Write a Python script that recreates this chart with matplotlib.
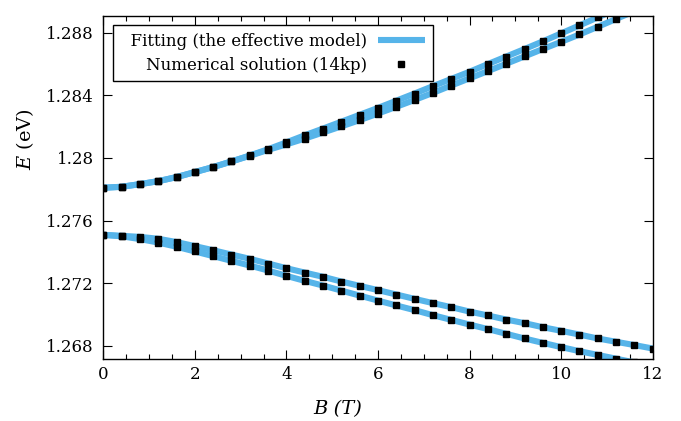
import matplotlib
matplotlib.use('Agg')
import matplotlib.pyplot as plt
from matplotlib.ticker import FixedLocator, MultipleLocator

plt.rcParams['font.family'] = ['DejaVu Serif']
plt.rcParams['mathtext.fontset'] = 'dejavuserif'

# Magnetic field grid (T)
B = [0.0, 0.4, 0.8, 1.2, 1.6, 2.0, 2.4, 2.8, 3.2, 3.6, 4.0, 4.4, 4.8, 5.2, 5.6,
     6.0, 6.4, 6.8, 7.2, 7.6, 8.0, 8.4, 8.8, 9.2, 9.6, 10.0, 10.4, 10.8, 11.2,
     11.6, 12.0]

# Upper branches (eV)
upper_1 = [1.27810, 1.27816, 1.27833, 1.27852, 1.27878, 1.27910, 1.27942, 1.27978,
           1.28016, 1.28056, 1.28100, 1.28145, 1.28188, 1.28232, 1.28276, 1.28320,
           1.28366, 1.28412, 1.28459, 1.28505, 1.28551, 1.28600, 1.28648, 1.28696,
           1.28745, 1.28796, 1.28847, 1.28898, 1.28949]
upper_2 = [1.27810, 1.27816, 1.27833, 1.27852, 1.27878, 1.27910, 1.27942, 1.27978,
           1.28014, 1.28052, 1.28087, 1.28124, 1.28163, 1.28202, 1.28242, 1.28284,
           1.28327, 1.28371, 1.28416, 1.28463, 1.28509, 1.28555, 1.28602, 1.28649,
           1.28696, 1.28742, 1.28789, 1.28838, 1.28888, 1.28938]

# Lower branches (eV)
lower_1 = [1.27509, 1.27503, 1.27496, 1.27484, 1.27463, 1.27437, 1.27411, 1.27383,
           1.27356, 1.27326, 1.27296, 1.27268, 1.27241, 1.27211, 1.27183, 1.27156,
           1.27128, 1.27100, 1.27073, 1.27047, 1.27019, 1.26994, 1.26968, 1.26945,
           1.26919, 1.26896, 1.26872, 1.26847, 1.26826, 1.26805, 1.26783]
lower_2 = [1.27509, 1.27500, 1.27482, 1.27460, 1.27433, 1.27403, 1.27373, 1.27343,
           1.27313, 1.27281, 1.27247, 1.27215, 1.27185, 1.27153, 1.27121, 1.27089,
           1.27058, 1.27028, 1.26996, 1.26966, 1.26936, 1.26907, 1.26877, 1.26847,
           1.26819, 1.26792, 1.26766, 1.26742, 1.26718, 1.26694, 1.26670]

branches = [upper_1, upper_2, lower_1, lower_2]

yticks = [1.268, 1.272, 1.276, 1.280, 1.284, 1.288]
ytick_labels = ['1.268', '1.272', '1.276', '1.28', '1.284', '1.288']
xticks = [0, 2, 4, 6, 8, 10, 12]

fit_color = '#56B4E9'

fig = plt.figure(figsize=(6.81, 4.21), dpi=100)
ax = fig.add_axes([103.3 / 681, (421 - 359) / 421, (652.7 - 103.3) / 681, (359 - 15.7) / 421])

for i, E in enumerate(branches):
    ax.plot(B[:len(E)], E, color=fit_color, lw=4.4, solid_capstyle='butt', zorder=2,
            label='  Fitting (the effective model)' if i == 0 else None)
for i, E in enumerate(branches):
    ax.plot(B[:len(E)], E, ls='none', marker='s', ms=4, color='black', zorder=3,
            label='Numerical solution (14kp)' if i == 0 else None)

ax.set_xlim(0, 12)
ax.set_ylim(1.26716, 1.28909)
ax.xaxis.set_major_locator(FixedLocator(xticks))
ax.xaxis.set_minor_locator(MultipleLocator(0.5))
ax.yaxis.set_major_locator(FixedLocator(yticks))
ax.set_yticklabels(ytick_labels)
ax.tick_params(which='both', direction='in', top=True, right=True, labelsize=12, color='black')
ax.tick_params(which='major', length=6.5, width=0.8)
ax.tick_params(which='minor', length=3.4, width=0.8)
ax.tick_params(axis='x', pad=5)
ax.tick_params(axis='y', pad=7)
for s in ax.spines.values():
    s.set_linewidth(1.0)

ax.set_xlabel('B (T)', fontsize=14, fontstyle='italic')
ax.xaxis.set_label_coords((338 - 103.3) / 549.4, -(409 - 359) / 343.3)
ax.set_ylabel(r'$E$ (eV)', fontsize=14)
ax.yaxis.set_label_coords((25 - 103.3) / 549.4, (359 - 139) / 343.3)
ax.xaxis.label.set_va('center')
ax.yaxis.label.set_va('center')

leg = ax.legend(loc='upper left', bbox_to_anchor=((113 - 103.3) / 549.4, (359 - 25) / 343.3),
                borderaxespad=0, markerfirst=False, fontsize=12, frameon=True,
                fancybox=False, edgecolor='black', framealpha=1, handlelength=2.85,
                handletextpad=0.6, labelspacing=0.42, borderpad=0.45)
leg.get_frame().set_linewidth(1.0)

fig.savefig('out.png', dpi=100)
